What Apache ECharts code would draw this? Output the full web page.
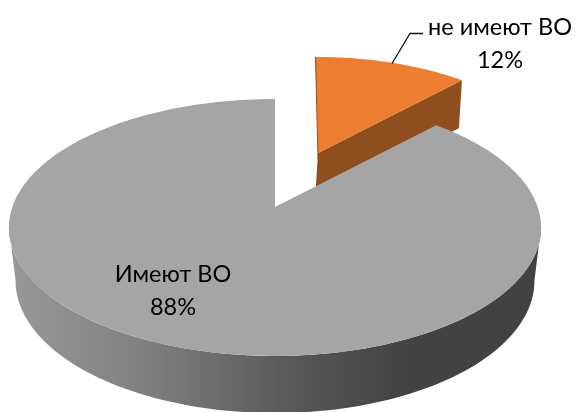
<!DOCTYPE html>
<html><head><meta charset="utf-8">
<style>html,body{margin:0;padding:0;background:#fff}#c{width:576px;height:412px}</style>
<script src="https://cdn.jsdelivr.net/npm/echarts@6/dist/echarts.min.js"></script>
</head><body><div id="c"></div>
<script>
const categories = ['не имеют ВО', 'Имеют ВО'];
const values = [12, 88];

const FONT = 'Lato, "Open Sans", sans-serif';
const total = values.reduce((a, b) => a + b, 0);
const C = 0.1595, A = -92.2, R = 262.7;

function plane(theta) {
  const u = Math.sin(theta), v = Math.cos(theta), d = 1 + C * v;
  return [R * u / d, (A * v) / d + (207 * C * v * -1) / d];
}
function gray(theta) {
  const p = plane(theta);
  return [275 + p[0], 207 + p[1]];
}
function grayBottom(q) {
  return [275 + (q[0] - 275) * 0.975, 129 + (q[1] - 80) * 1.029];
}
function orange(theta) {
  const p = plane(theta);
  const dy = p[1] * 0.89;
  return [318 + p[0] * 0.905 + dy * 0.026, 153 + dy];
}
function orangeBottom(q) { return [q[0] - 3, q[1] + 48]; }

function arc(fn, a0, a1, n) {
  const out = [];
  for (let i = 0; i <= n; i++) out.push(fn(a0 + (a1 - a0) * i / n));
  return out;
}
function poly(points, style) {
  return { type: 'polygon', shape: { points }, style };
}
const sideFill = new echarts.graphic.LinearGradient(15, 0, 535, 0, [
  { offset: 0, color: '#989898' },
  { offset: 0.28, color: '#7c7c7c' },
  { offset: 0.53, color: '#585858' },
  { offset: 0.75, color: '#434343' },
  { offset: 1, color: '#424242' }
], true);

function renderItem(params, api) {
  const idx = params.dataIndex;
  let start = 0;
  for (let i = 0; i < idx; i++) start += values[i];
  const a0 = start / total * 2 * Math.PI;
  const a1 = (start + values[idx]) / total * 2 * Math.PI;
  const pct = Math.round(values[idx] / total * 100) + '%';
  const text = categories[idx] + '\n' + pct;
  const children = [];
  const txtStyle = (x, y) => ({ x, y, text, fill: '#000', font: '23.5px ' + FONT, align: 'center', verticalAlign: 'middle', lineHeight: 33 });
  if (idx === 0) {
    const ap = [318, 153];
    const top = arc(orange, a0, a1, 48);
    const corner = top[top.length - 1];
    children.push(poly([ap, corner, orangeBottom(corner), orangeBottom(ap)], { fill: '#8f4e1e' }));
    children.push(poly([ap].concat(top), { fill: '#ed7d31' }));
    children.push({ type: 'line', shape: { x1: top[0][0], y1: top[0][1], x2: ap[0], y2: ap[1] + 6 }, style: { stroke: '#8f4e1e', lineWidth: 1 } });
    children.push({ type: 'polyline', shape: { points: [[392, 63.5], [410, 33.5], [423, 33.5]] }, style: { stroke: '#111', lineWidth: 1.3, fill: null } });
    children.push({ type: 'text', style: txtStyle(500, 44) });
  } else {
    const front = arc(gray, 99 * Math.PI / 180, 261 * Math.PI / 180, 96);
    const back = front.map(grayBottom).reverse();
    children.push(poly(front.concat(back), { fill: sideFill }));
    children.push(poly([[275, 207]].concat(arc(gray, a0, a1, 180)), { fill: '#a5a5a5' }));
    children.push({ type: 'text', style: txtStyle(173, 291) });
  }
  return { type: 'group', children };
}

const chart = echarts.init(document.getElementById('c'), null, { renderer: 'canvas' });
chart.setOption({
  backgroundColor: '#fff',
  animation: false,
  series: [{
    type: 'custom',
    coordinateSystem: 'none',
    renderItem,
    data: values.map((v, i) => ({ name: categories[i], value: v }))
  }]
});
</script></body></html>
